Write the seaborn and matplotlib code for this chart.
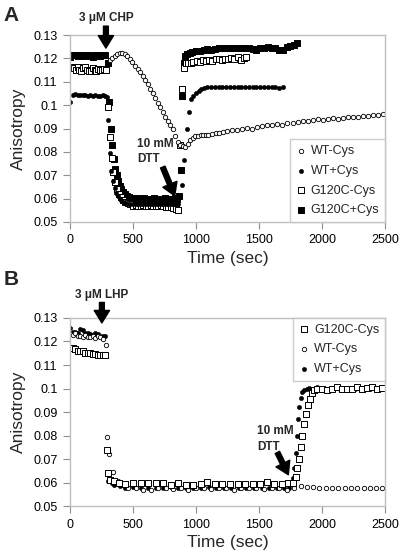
import matplotlib
matplotlib.use("Agg")
import matplotlib.pyplot as plt
import seaborn as sns
from matplotlib.ticker import FuncFormatter, MultipleLocator

sns.set_theme(style="white")
plt.rcParams["font.family"] = ["Liberation Sans", "DejaVu Sans"]

# ---------------- panel A (CHP) ----------------
a_wt_minus_t = [316, 336, 356, 376, 396, 416, 436, 456, 476, 496, 516, 536, 556, 576, 596,
                616, 636, 656, 676, 696, 716, 736, 756, 776, 796, 816, 836, 856, 876, 896,
                916, 936, 956, 976, 996, 1016, 1036, 1056, 1076, 1096, 1126, 1156, 1186, 1216,
                1246, 1286, 1326, 1366, 1406, 1446, 1486, 1526, 1566, 1606, 1646, 1686, 1726,
                1766, 1806, 1846, 1886, 1926, 1966, 2006, 2046, 2086, 2126, 2166, 2206, 2246,
                2286, 2326, 2366, 2406, 2446, 2486]
a_wt_minus_y = [0.1193, 0.1203, 0.1212, 0.1218, 0.1222, 0.1223, 0.1219, 0.1211, 0.1198, 0.1184,
                0.1169, 0.1155, 0.1140, 0.1124, 0.1106, 0.1089, 0.1070, 0.1052, 0.1031, 0.1010,
                0.0990, 0.0970, 0.0951, 0.0932, 0.0914, 0.0897, 0.0868, 0.0843, 0.0830, 0.0823,
                0.0822, 0.0835, 0.0850, 0.0860, 0.0866, 0.0869, 0.0871, 0.0872, 0.0873, 0.0874,
                0.0876, 0.0879, 0.0882, 0.0886, 0.0889, 0.0892, 0.0895, 0.0898, 0.0902, 0.0900,
                0.0905, 0.0910, 0.0913, 0.0915, 0.0919, 0.0915, 0.0922, 0.0925, 0.0928, 0.0931,
                0.0933, 0.0936, 0.0939, 0.0937, 0.0942, 0.0944, 0.0941, 0.0946, 0.0948, 0.0950,
                0.0948, 0.0952, 0.0954, 0.0956, 0.0958, 0.0960]

a_wt_plus_t = [0, 20, 40, 60, 80, 100, 120, 140, 160, 180, 200, 220, 240, 260, 280, 290,
               302, 315, 328, 341, 354, 367, 380, 393, 406, 420, 440, 460, 480, 500, 520, 540,
               560, 580, 600, 620, 640, 660, 680, 700, 720, 740, 760, 780, 800, 820, 840, 860,
               886, 906, 926, 943, 960, 980, 1000, 1020, 1040, 1060, 1090, 1120, 1150, 1180,
               1210, 1240, 1270, 1300, 1330, 1360, 1390, 1420, 1450, 1480, 1510, 1540, 1570,
               1600, 1630, 1660, 1690]
a_wt_plus_y = [0.1014, 0.1044, 0.1046, 0.1043, 0.1044, 0.1042, 0.1044, 0.1041, 0.1043, 0.1040,
               0.1043, 0.1041, 0.1038, 0.1042, 0.1040, 0.1035, 0.0935, 0.0795, 0.0720, 0.0675,
               0.0645, 0.0625, 0.0610, 0.0600, 0.0592, 0.0587, 0.0580, 0.0578, 0.0576, 0.0578,
               0.0575, 0.0579, 0.0577, 0.0576, 0.0578, 0.0575, 0.0577, 0.0578, 0.0576, 0.0577,
               0.0575, 0.0578, 0.0576, 0.0577, 0.0578, 0.0575, 0.0576, 0.0577, 0.0659, 0.0766,
               0.0900, 0.0970, 0.1025, 0.1040, 0.1050, 0.1060, 0.1068, 0.1073, 0.1077, 0.1078,
               0.1076, 0.1079, 0.1078, 0.1077, 0.1079, 0.1078, 0.1078, 0.1079, 0.1077, 0.1078,
               0.1078, 0.1079, 0.1077, 0.1076, 0.1078, 0.1078, 0.1077, 0.1075, 0.1079]

a_g120c_minus_t = [0, 15, 30, 45, 60, 75, 90, 105, 120, 135, 150, 165, 180, 195, 210, 225,
                   240, 255, 270, 285, 300, 315, 330, 345, 360, 375, 390, 405, 420, 440, 460,
                   480, 500, 520, 540, 560, 580, 600, 620, 640, 660, 680, 700, 720, 740, 760,
                   780, 800, 820, 840, 860, 875, 890, 905, 920, 940, 960, 980, 1005, 1030, 1055,
                   1080, 1105, 1130, 1155, 1180, 1205, 1230, 1255, 1280, 1305, 1330, 1355, 1380,
                   1400]
a_g120c_minus_y = [0.1160, 0.1165, 0.1158, 0.1150, 0.1162, 0.1152, 0.1148, 0.1160, 0.1165,
                   0.1150, 0.1145, 0.1145, 0.1158, 0.1152, 0.1148, 0.1155, 0.1152, 0.1150,
                   0.1155, 0.1152, 0.0990, 0.0865, 0.0775, 0.0715, 0.0670, 0.0640, 0.0620,
                   0.0605, 0.0595, 0.0585, 0.0580, 0.0578, 0.0570, 0.0572, 0.0568, 0.0570,
                   0.0571, 0.0569, 0.0570, 0.0572, 0.0568, 0.0570, 0.0569, 0.0571, 0.0568,
                   0.0566, 0.0565, 0.0562, 0.0560, 0.0555, 0.0553, 0.0830, 0.1070, 0.1160,
                   0.1180, 0.1182, 0.1180, 0.1185, 0.1188, 0.1185, 0.1192, 0.1190, 0.1195,
                   0.1190, 0.1196, 0.1198, 0.1193, 0.1198, 0.1196, 0.1200, 0.1198, 0.1205,
                   0.1193, 0.1203, 0.1204]

a_g120c_plus_t = [0, 20, 40, 60, 80, 100, 120, 140, 160, 180, 200, 220, 240, 260, 280, 300,
                  312, 324, 336, 348, 360, 372, 384, 396, 408, 420, 435, 450, 470, 490, 510,
                  530, 550, 570, 590, 610, 630, 650, 670, 690, 710, 730, 750, 770, 790, 810,
                  830, 850, 866, 878, 890, 902, 916, 932, 950, 970, 1000, 1030, 1060, 1090,
                  1120, 1150, 1180, 1210, 1240, 1270, 1300, 1330, 1360, 1390, 1420, 1450, 1480,
                  1510, 1540, 1570, 1600, 1630, 1660, 1690, 1720, 1750, 1780, 1800]
a_g120c_plus_y = [0.1205, 0.1215, 0.1215, 0.1210, 0.1215, 0.1210, 0.1215, 0.1215, 0.1210,
                  0.1205, 0.1215, 0.1215, 0.1210, 0.1215, 0.1215, 0.1180, 0.1015, 0.0900,
                  0.0830, 0.0768, 0.0725, 0.0700, 0.0675, 0.0655, 0.0640, 0.0630, 0.0620,
                  0.0612, 0.0605, 0.0602, 0.0600, 0.0601, 0.0599, 0.0600, 0.0602, 0.0600,
                  0.0599, 0.0600, 0.0601, 0.0600, 0.0599, 0.0600, 0.0602, 0.0600, 0.0599,
                  0.0600, 0.0601, 0.0600, 0.0610, 0.0723, 0.1040, 0.1180, 0.1210, 0.1220,
                  0.1225, 0.1228, 0.1230, 0.1232, 0.1235, 0.1240, 0.1238, 0.1240, 0.1243,
                  0.1243, 0.1245, 0.1245, 0.1243, 0.1245, 0.1246, 0.1245, 0.1245, 0.1240,
                  0.1236, 0.1245, 0.1246, 0.1247, 0.1246, 0.1245, 0.1238, 0.1236, 0.1248,
                  0.1252, 0.1258, 0.1265]

# ---------------- panel B (LHP) ----------------
b_g120c_minus_t = [0, 20, 40, 60, 80, 100, 120, 140, 160, 180, 200, 220, 240, 260, 280,
                   292, 305, 320, 350, 390, 440, 500, 560, 620, 680, 740, 800, 860, 920, 980,
                   1040, 1090, 1150, 1210, 1270, 1330, 1390, 1450, 1510, 1560, 1620, 1680,
                   1730, 1770, 1790, 1800, 1815, 1830, 1845, 1860, 1875, 1890, 1905, 1920,
                   1940, 1960, 2000, 2040, 2080, 2120, 2160, 2200, 2240, 2280, 2320, 2360,
                   2400, 2440, 2480]
b_g120c_minus_y = [0.1172, 0.1172, 0.1168, 0.1160, 0.1160, 0.1158, 0.1152, 0.1150, 0.1150,
                   0.1148, 0.1145, 0.1143, 0.1142, 0.1143, 0.1142, 0.0740, 0.0640, 0.0610,
                   0.0605, 0.0600, 0.0595, 0.0600, 0.0600, 0.0600, 0.0600, 0.0600, 0.0590,
                   0.0600, 0.0590, 0.0590, 0.0595, 0.0602, 0.0595, 0.0595, 0.0595, 0.0595,
                   0.0595, 0.0595, 0.0595, 0.0602, 0.0595, 0.0595, 0.0597, 0.0600, 0.0625,
                   0.0660, 0.0700, 0.0750, 0.0800, 0.0850, 0.0890, 0.0930, 0.0955, 0.0980,
                   0.0995, 0.1000, 0.1000, 0.0995, 0.1000, 0.1005, 0.1000, 0.0998, 0.1000,
                   0.1005, 0.1000, 0.1002, 0.1005, 0.1000, 0.1002]

b_wt_minus_t = [0, 20, 40, 60, 80, 100, 120, 140, 160, 180, 200, 220, 240, 260, 285, 293,
                300, 306, 340, 380, 420, 460, 520, 580, 640, 700, 760, 820, 880, 940, 1000,
                1060, 1120, 1180, 1240, 1300, 1360, 1420, 1480, 1540, 1600, 1660, 1720, 1780,
                1830, 1880, 1930, 1980, 2030, 2080, 2130, 2180, 2230, 2280, 2330, 2380, 2430,
                2480]
b_wt_minus_y = [0.1232, 0.1228, 0.1235, 0.1225, 0.1222, 0.1220, 0.1228, 0.1218, 0.1220,
                0.1222, 0.1215, 0.1225, 0.1218, 0.1210, 0.1185, 0.0794, 0.0740, 0.0720,
                0.0645, 0.0605, 0.0590, 0.0577, 0.0575, 0.0570, 0.0570, 0.0575, 0.0577,
                0.0572, 0.0575, 0.0570, 0.0577, 0.0575, 0.0572, 0.0577, 0.0575, 0.0570,
                0.0575, 0.0577, 0.0575, 0.0572, 0.0575, 0.0577, 0.0570, 0.0578, 0.0585,
                0.0583, 0.0580, 0.0577, 0.0577, 0.0576, 0.0577, 0.0577, 0.0576, 0.0577,
                0.0577, 0.0576, 0.0577, 0.0578]

b_wt_plus_t = [0, 20, 40, 60, 80, 100, 120, 140, 160, 180, 200, 220, 240, 260, 280, 290,
               300, 330, 350, 400, 440, 500, 560, 620, 680, 740, 800, 860, 920, 980, 1040,
               1100, 1160, 1220, 1280, 1340, 1400, 1460, 1520, 1580, 1640, 1700, 1740, 1770,
               1780, 1790, 1800, 1808, 1816, 1830, 1845, 1860, 1880, 1900, 1930, 1960, 2020,
               2080, 2140, 2200, 2260, 2320, 2380, 2440, 2490]
b_wt_plus_y = [0.1257, 0.1240, 0.1242, 0.1238, 0.1255, 0.1250, 0.1238, 0.1235, 0.1230,
               0.1228, 0.1235, 0.1232, 0.1222, 0.1225, 0.1222, 0.0740, 0.0605, 0.0600,
               0.0590, 0.0585, 0.0578, 0.0580, 0.0575, 0.0578, 0.0575, 0.0577, 0.0580,
               0.0575, 0.0578, 0.0575, 0.0577, 0.0580, 0.0575, 0.0578, 0.0575, 0.0577,
               0.0578, 0.0575, 0.0577, 0.0578, 0.0575, 0.0577, 0.0578, 0.0620, 0.0660,
               0.0726, 0.0800, 0.0870, 0.0920, 0.0960, 0.0985, 0.0995, 0.1000, 0.1003,
               0.1000, 0.1005, 0.1000, 0.1002, 0.0998, 0.1003, 0.1000, 0.1002, 0.1000,
               0.1003, 0.1001]

yticks = [0.05, 0.06, 0.07, 0.08, 0.09, 0.10, 0.11, 0.12, 0.13]

OPEN_C = dict(marker="o", s=10, color="white", edgecolor="black", linewidth=0.6)
FILL_C = dict(marker="o", s=10, color="black", edgecolor="black", linewidth=0.3)
OPEN_S = dict(marker="s", s=22, color="white", edgecolor="black", linewidth=0.7)
FILL_S = dict(marker="s", s=22, color="black", edgecolor="black", linewidth=0.7)
FRAME = "#c0c0c0"


def style_axes(ax):
    ax.set_xlim(0, 2500)
    ax.set_ylim(0.05, 0.13)
    ax.xaxis.set_major_locator(MultipleLocator(500))
    ax.set_yticks(yticks)
    ax.yaxis.set_major_formatter(FuncFormatter(lambda v, p: f"{v:g}"))
    for sp in ax.spines.values():
        sp.set_color(FRAME)
        sp.set_linewidth(1.0)
    ax.tick_params(axis="both", direction="out", length=5, width=0.8, color="#909090",
                   labelsize=9, labelcolor="black", pad=4, bottom=True, left=True)
    ax.set_xlabel("Time (sec)", fontsize=12.5, labelpad=3)
    ax.set_ylabel("Anisotropy", fontsize=12.5, labelpad=5)


def arrow(ax, x0, y0, x1, y1):
    ax.annotate("", xy=(x1, y1), xytext=(x0, y0), annotation_clip=False,
                arrowprops=dict(facecolor="black", edgecolor="black", width=3.5,
                                headwidth=11, headlength=9, shrink=0))


fig = plt.figure(figsize=(4, 5.54), dpi=100)

# panel A
axA = fig.add_axes([0.175, 0.5993, 0.7875, 0.3375])
sns.scatterplot(x=a_g120c_plus_t, y=a_g120c_plus_y, ax=axA, label="G120C+Cys", **FILL_S)
sns.scatterplot(x=a_g120c_minus_t, y=a_g120c_minus_y, ax=axA, label="G120C-Cys", **OPEN_S)
sns.scatterplot(x=a_wt_plus_t, y=a_wt_plus_y, ax=axA, label="WT+Cys", **FILL_C)
sns.scatterplot(x=a_wt_minus_t, y=a_wt_minus_y, ax=axA, label="WT-Cys", **OPEN_C)
style_axes(axA)
h, l = axA.get_legend_handles_labels()
order = [3, 2, 1, 0]
legA = axA.legend([h[i] for i in order], [l[i] for i in order], loc="lower right",
                  fontsize=9, frameon=True, fancybox=False, edgecolor=FRAME,
                  borderaxespad=0, handlelength=0.8, handletextpad=0.4,
                  labelspacing=0.62, borderpad=0.45, markerscale=1.0)
legA.get_frame().set_linewidth(1.0)

axA.text(285, 0.1372, "3 μM CHP", ha="center", va="center", fontsize=8.5,
         fontweight="bold", clip_on=False)
arrow(axA, 285, 0.1338, 285, 0.1244)
axA.text(530, 0.0800, "10 mM\nDTT", ha="left", va="center", fontsize=8.5,
         fontweight="bold", linespacing=1.35)
arrow(axA, 736, 0.0735, 831, 0.0612)
fig.text(0.008, 0.972, "A", fontsize=15, fontweight="bold", ha="left", va="center")

# panel B
axB = fig.add_axes([0.175, 0.0866, 0.7875, 0.3394])
sns.scatterplot(x=b_wt_plus_t, y=b_wt_plus_y, ax=axB, label="WT+Cys", **FILL_C)
sns.scatterplot(x=b_wt_minus_t, y=b_wt_minus_y, ax=axB, label="WT-Cys", **OPEN_C)
sns.scatterplot(x=b_g120c_minus_t, y=b_g120c_minus_y, ax=axB, label="G120C-Cys", **OPEN_S)
style_axes(axB)
h, l = axB.get_legend_handles_labels()
order = [2, 1, 0]
legB = axB.legend([h[i] for i in order], [l[i] for i in order], loc="upper right",
                  fontsize=9, frameon=True, fancybox=False, edgecolor=FRAME,
                  borderaxespad=0, handlelength=0.8, handletextpad=0.4,
                  labelspacing=0.62, borderpad=0.45, markerscale=1.0)
legB.get_frame().set_linewidth(1.0)

axB.text(253, 0.1398, "3 μM LHP", ha="center", va="center", fontsize=8.5,
         fontweight="bold", clip_on=False)
arrow(axB, 253, 0.1366, 253, 0.1279)
axB.text(1487, 0.0785, "10 mM\nDTT", ha="left", va="center", fontsize=8.5,
         fontweight="bold", linespacing=1.35)
arrow(axB, 1646, 0.0728, 1733, 0.0633)
fig.text(0.008, 0.495, "B", fontsize=15, fontweight="bold", ha="left", va="center")

fig.savefig("out.png", dpi=100, facecolor="white")
